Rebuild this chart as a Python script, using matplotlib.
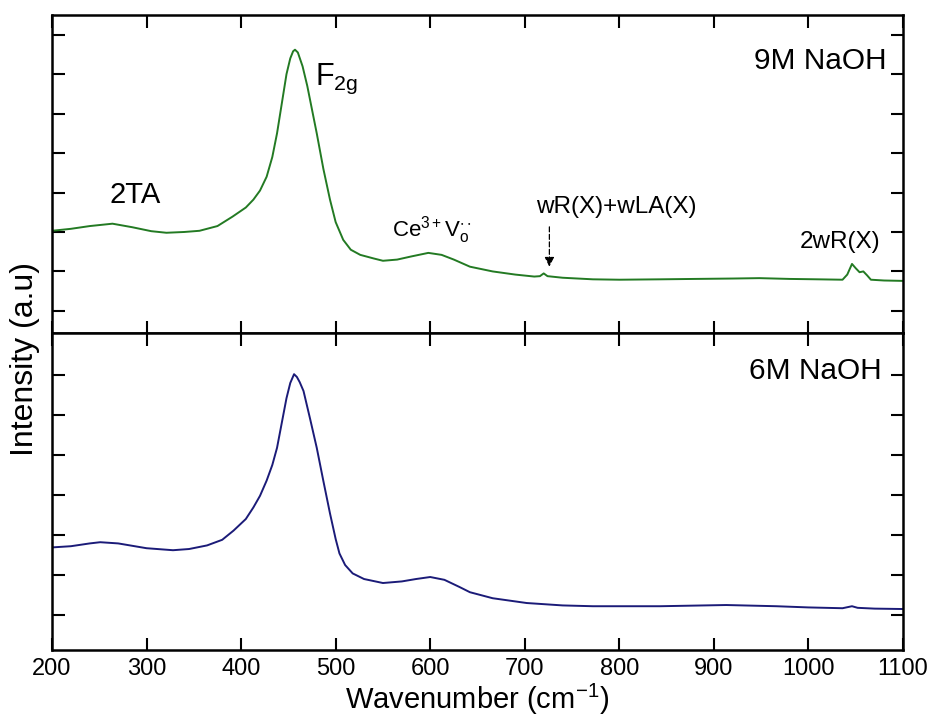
import matplotlib
matplotlib.use("Agg")
import matplotlib.pyplot as plt

plt.rcParams['font.family'] = ['Liberation Sans', 'DejaVu Sans']
plt.rcParams['mathtext.fontset'] = 'custom'
plt.rcParams['mathtext.rm'] = 'Liberation Sans'
plt.rcParams['mathtext.it'] = 'Liberation Sans'
plt.rcParams['mathtext.default'] = 'regular'

# Raman spectrum, 9M NaOH sample (wavenumber in cm^-1, intensity in a.u.)
wn_9m = [200, 220, 240, 264, 285, 305, 321, 340, 356, 375, 391, 405, 413, 420,
         427, 433, 438, 443, 448, 452, 455, 457, 460, 465, 470, 475, 480, 487,
         494, 500, 508, 516, 526, 540, 550, 565, 580, 598, 612, 625, 642, 666,
         690, 710, 716, 720, 724, 740, 772, 800, 843, 880, 920, 948, 980, 1010,
         1036, 1041, 1046, 1050, 1054, 1058, 1062, 1066, 1080, 1100]
int_9m = [2.03, 2.08, 2.15, 2.21, 2.12, 2.02, 1.98, 2.00, 2.03, 2.15, 2.39, 2.62,
          2.82, 3.05, 3.40, 3.90, 4.50, 5.25, 6.00, 6.40, 6.58, 6.62, 6.55, 6.20,
          5.70, 5.10, 4.50, 3.60, 2.82, 2.25, 1.80, 1.55, 1.42, 1.33, 1.27, 1.30,
          1.38, 1.47, 1.42, 1.30, 1.12, 1.00, 0.92, 0.87, 0.88, 0.95, 0.88, 0.84,
          0.80, 0.79, 0.80, 0.81, 0.82, 0.83, 0.81, 0.80, 0.79, 0.92, 1.19, 1.08,
          0.98, 1.00, 0.90, 0.79, 0.77, 0.76]

# Raman spectrum, 6M NaOH sample
wn_6m = [200, 220, 240, 251, 270, 300, 328, 345, 364, 380, 392, 405, 413, 420,
         427, 433, 438, 443, 448, 452, 456, 459, 462, 466, 473, 480, 487, 494,
         500, 504, 510, 518, 530, 550, 570, 585, 600, 615, 631, 642, 666, 702,
         740, 772, 843, 913, 966, 1000, 1036, 1046, 1052, 1070, 1100]
int_6m = [1.69, 1.72, 1.79, 1.82, 1.79, 1.67, 1.62, 1.65, 1.74, 1.88, 2.11, 2.40,
          2.69, 2.98, 3.36, 3.75, 4.18, 4.80, 5.42, 5.80, 6.02, 5.95, 5.82, 5.60,
          4.90, 4.18, 3.35, 2.54, 1.90, 1.54, 1.25, 1.04, 0.90, 0.80, 0.84, 0.90,
          0.95, 0.88, 0.70, 0.57, 0.42, 0.30, 0.24, 0.22, 0.22, 0.25, 0.22, 0.19,
          0.17, 0.22, 0.18, 0.16, 0.15]

x_ticks = [200, 300, 400, 500, 600, 700, 800, 900, 1000, 1100]

green = '#237a23'
navy = '#1b1b78'

fig = plt.figure(figsize=(9.33, 7.17), dpi=100)
ax_top = fig.add_axes([0.0557, 0.5356, 0.9122, 0.4435])
ax_bot = fig.add_axes([0.0557, 0.0934, 0.9122, 0.4422], sharex=ax_top)

ax_top.plot(wn_9m, int_9m, color=green, lw=1.4)
ax_bot.plot(wn_6m, int_6m, color=navy, lw=1.4)

for ax in (ax_top, ax_bot):
    ax.set_xlim(200, 1100)
    ax.set_xticks(x_ticks)
    for s in ax.spines.values():
        s.set_linewidth(1.8)
    ax.tick_params(direction='in', length=9, width=1.5, top=True, right=True,
                   labelsize=17, pad=6)
    ax.tick_params(axis='y', labelleft=False)

ax_top.set_ylim(-0.56, 7.5)
ax_top.set_yticks(range(0, 8))
ax_top.tick_params(axis='x', labelbottom=False)

ax_bot.set_ylim(-0.875, 7.05)
ax_bot.set_yticks(range(0, 7))
ax_bot.set_xlabel('Wavenumber (cm$^{-1}$)', fontsize=21, labelpad=1)

fig.text(0.027, 0.5, 'Intensity (a.u)', rotation=90, fontsize=23,
         ha='center', va='center')

# peak annotations
ax_top.text(288, 2.73, '2TA', fontsize=21, ha='center', va='baseline')
ax_top.text(478, 5.74, 'F$_{2g}$', fontsize=22, ha='left', va='baseline')
ax_top.text(560, 1.88, r'Ce$^{3+}$V$_{o}^{\cdot\cdot}$', fontsize=16,
            ha='left', va='baseline')
ax_top.text(797, 2.49, 'wR(X)+wLA(X)', fontsize=17.5, ha='center', va='baseline')
ax_top.text(1033, 1.6, '2wR(X)', fontsize=17.5, ha='center', va='baseline')
ax_top.annotate('', xy=(726, 1.05), xytext=(726, 2.2),
                arrowprops=dict(arrowstyle='-|>', linestyle=(0, (4, 2)),
                                color='black', lw=0.9, mutation_scale=14))

ax_top.text(1083, 6.12, '9M NaOH', fontsize=21.5, ha='right', va='baseline')
ax_bot.text(1077, 5.9, '6M NaOH', fontsize=21.5, ha='right', va='baseline')

fig.savefig('out.png', dpi=100)
